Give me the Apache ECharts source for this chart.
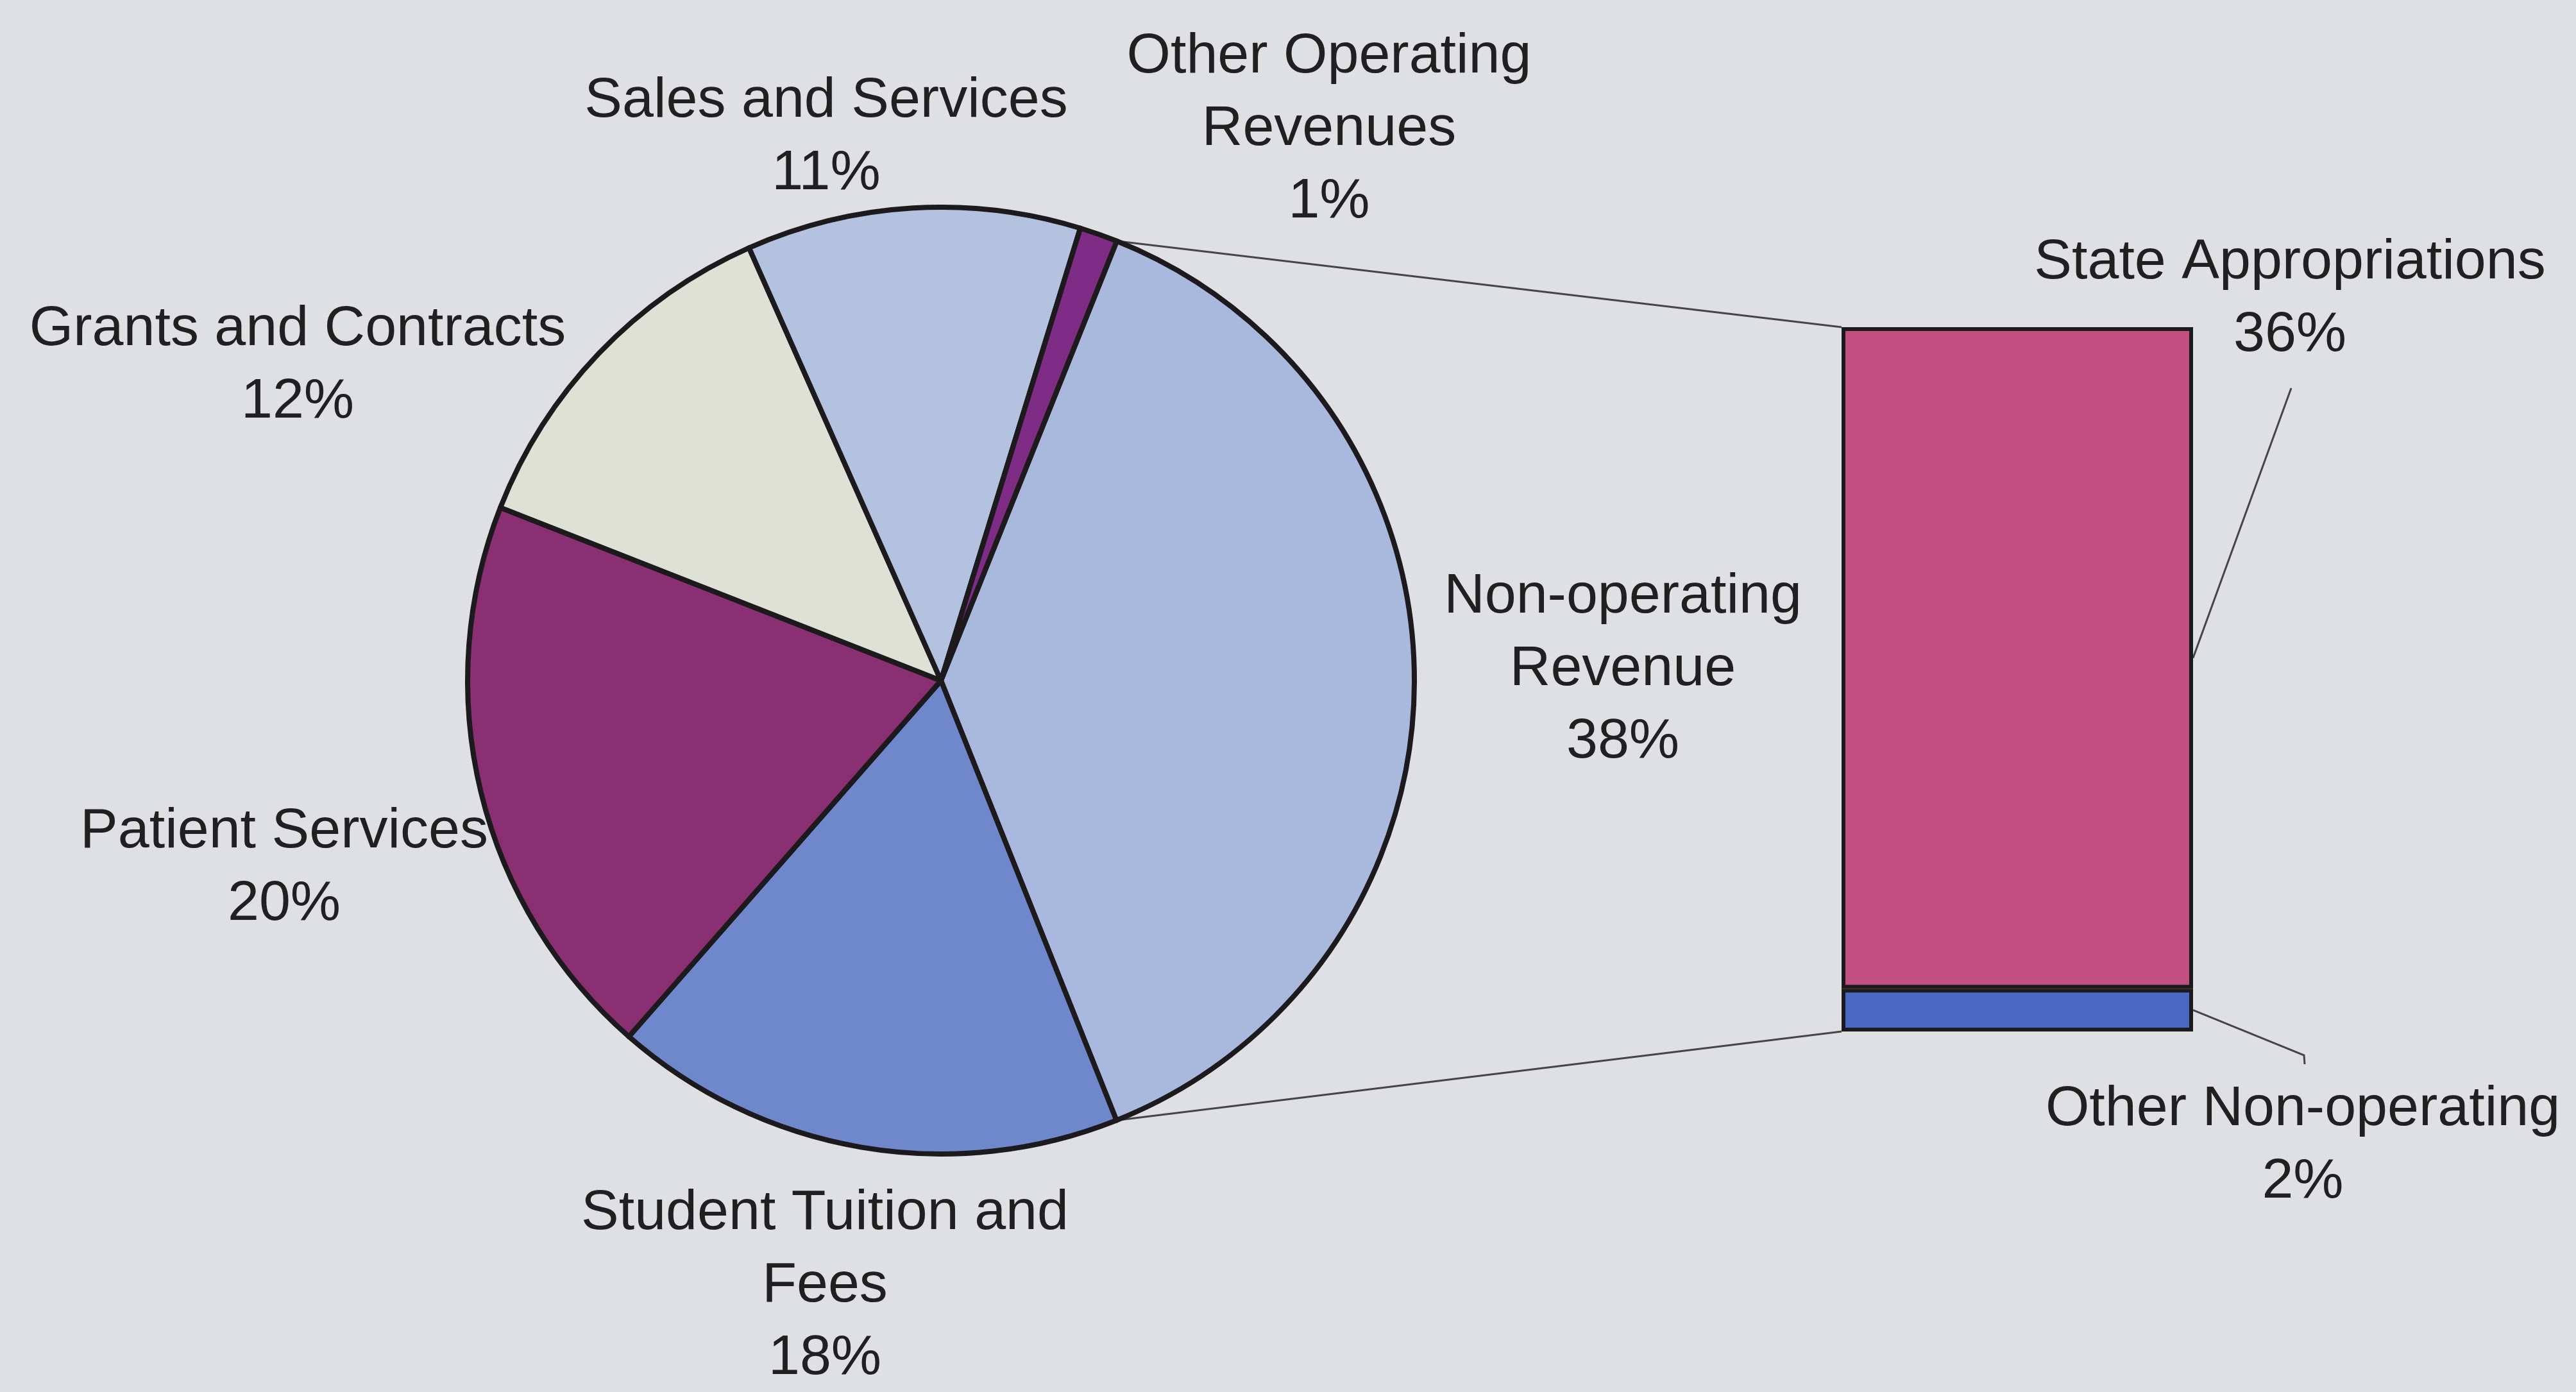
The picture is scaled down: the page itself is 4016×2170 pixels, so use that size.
<!DOCTYPE html>
<html>
<head>
<meta charset="utf-8">
<script src="https://cdn.jsdelivr.net/npm/echarts@6/dist/echarts.min.js"></script>
<style>
html,body{margin:0;padding:0;background:#dfe0e3;}
#c{width:4016px;height:2170px;}
</style>
</head>
<body>
<div id="c"></div>
<script>
// ---- data ----
var pieNames = ['Non-operating\nRevenue', 'Student Tuition and\nFees', 'Patient Services', 'Grants and Contracts', 'Sales and Services', 'Other Operating\nRevenues'];
var pieValues = [37.9, 17.5, 19.5, 12.4, 11.4, 1.3];
var barNames = ['State Appropriations', 'Other Non-operating'];
var barValues = [35.6, 2.3];

// ---- styles / layout ----
var pieColors = ['#a8b9dd', '#6f87cb', '#8a2f72', '#dfe1d6', '#b2c2df', '#7e2c86'];
var barColors = ['#c24f80', '#4a69c4'];
var pieCenter = [1467, 1061];
var pieRadius = 738;
var startAngle = 68.2;
var grid = {left: 2871, top: 510, width: 548, height: 1098};
var pieLabelPos = [[2530, 1044], [1286, 2005], [443, 1353], [464, 570], [1288, 214], [2072, 202]];
var barLabelPos = [[3570, 466], [3590, 1786]];
var textStyle = {fontFamily: 'Liberation Sans, Arial, sans-serif', fontSize: 88, lineHeight: 113, color: '#202020'};
var lineColor = '#454545';

var chart = echarts.init(document.getElementById('c'));

var pieData = pieNames.map(function (n, i) {
  return {name: n, value: pieValues[i], itemStyle: {color: pieColors[i]}};
});

var barTotal = barValues.reduce(function (a, b) { return a + b; }, 0);

// bottom segment first in the stack
var order = [1, 0];
var barSeries = order.map(function (i) {
  return {
    type: 'bar',
    name: barNames[i],
    stack: 'np',
    data: [barValues[i]],
    barWidth: '100%',
    itemStyle: {color: barColors[i], borderColor: '#1c1a1c', borderWidth: 6},
    label: Object.assign({
      show: true, position: 'right', align: 'center',
      formatter: function (p) { return p.seriesName + '\n' + Math.round(p.value) + '%'; }
    }, textStyle),
    labelLayout: {x: barLabelPos[i][0], y: barLabelPos[i][1], align: 'center', verticalAlign: 'middle'},
    emphasis: {disabled: true},
    z: 3
  };
});

var option = {
  backgroundColor: '#dfe0e3',
  animation: false,
  grid: grid,
  xAxis: {type: 'category', data: ['np'], show: false},
  yAxis: {type: 'value', min: 0, max: barTotal, show: false},
  series: [{
    type: 'pie',
    center: pieCenter,
    radius: pieRadius,
    startAngle: startAngle,
    clockwise: true,
    avoidLabelOverlap: false,
    data: pieData,
    itemStyle: {borderColor: '#1c1a1c', borderWidth: 8},
    label: Object.assign({
      show: true, position: 'outside', align: 'center',
      formatter: function (p) { return p.name + '\n' + Math.round(p.value) + '%'; }
    }, textStyle),
    labelLine: {show: false},
    labelLayout: function (p) {
      var pos = pieLabelPos[p.dataIndex];
      return {x: pos[0], y: pos[1], align: 'center', verticalAlign: 'middle'};
    },
    emphasis: {disabled: true},
    z: 4
  }].concat(barSeries)
};
chart.setOption(option);

// connector lines from the first pie slice to the bar
var total = pieValues.reduce(function (a, b) { return a + b; }, 0);
var a0 = startAngle * Math.PI / 180;
var a1 = (startAngle - pieValues[0] / total * 360) * Math.PI / 180;
var p0 = [pieCenter[0] + pieRadius * Math.cos(a0), pieCenter[1] - pieRadius * Math.sin(a0)];
var p1 = [pieCenter[0] + pieRadius * Math.cos(a1), pieCenter[1] - pieRadius * Math.sin(a1)];
var yTop = chart.convertToPixel({yAxisIndex: 0}, barTotal);
var yBot = chart.convertToPixel({yAxisIndex: 0}, 0);
var ySplit = chart.convertToPixel({yAxisIndex: 0}, barValues[1]);
var xLeft = grid.left;
var xRight = grid.left + grid.width;
var midState = (yTop + ySplit) / 2;
var midOther = (ySplit + yBot) / 2;

chart.setOption({
  graphic: [
    {type: 'line', z: 1, shape: {x1: p0[0], y1: p0[1], x2: xLeft, y2: yTop}, style: {stroke: lineColor, lineWidth: 3}},
    {type: 'line', z: 1, shape: {x1: p1[0], y1: p1[1], x2: xLeft, y2: yBot}, style: {stroke: lineColor, lineWidth: 3}},
    {type: 'polyline', z: 1, shape: {points: [[xRight, midState], [barLabelPos[0][0] + 2, barLabelPos[0][1] + 139]]}, style: {stroke: lineColor, lineWidth: 3, fill: null}},
    {type: 'polyline', z: 1, shape: {points: [[xRight, midOther], [barLabelPos[1][0] + 2, barLabelPos[1][1] - 141], [barLabelPos[1][0] + 3, barLabelPos[1][1] - 127]]}, style: {stroke: lineColor, lineWidth: 3, fill: null}}
  ]
});
</script>
</body>
</html>
